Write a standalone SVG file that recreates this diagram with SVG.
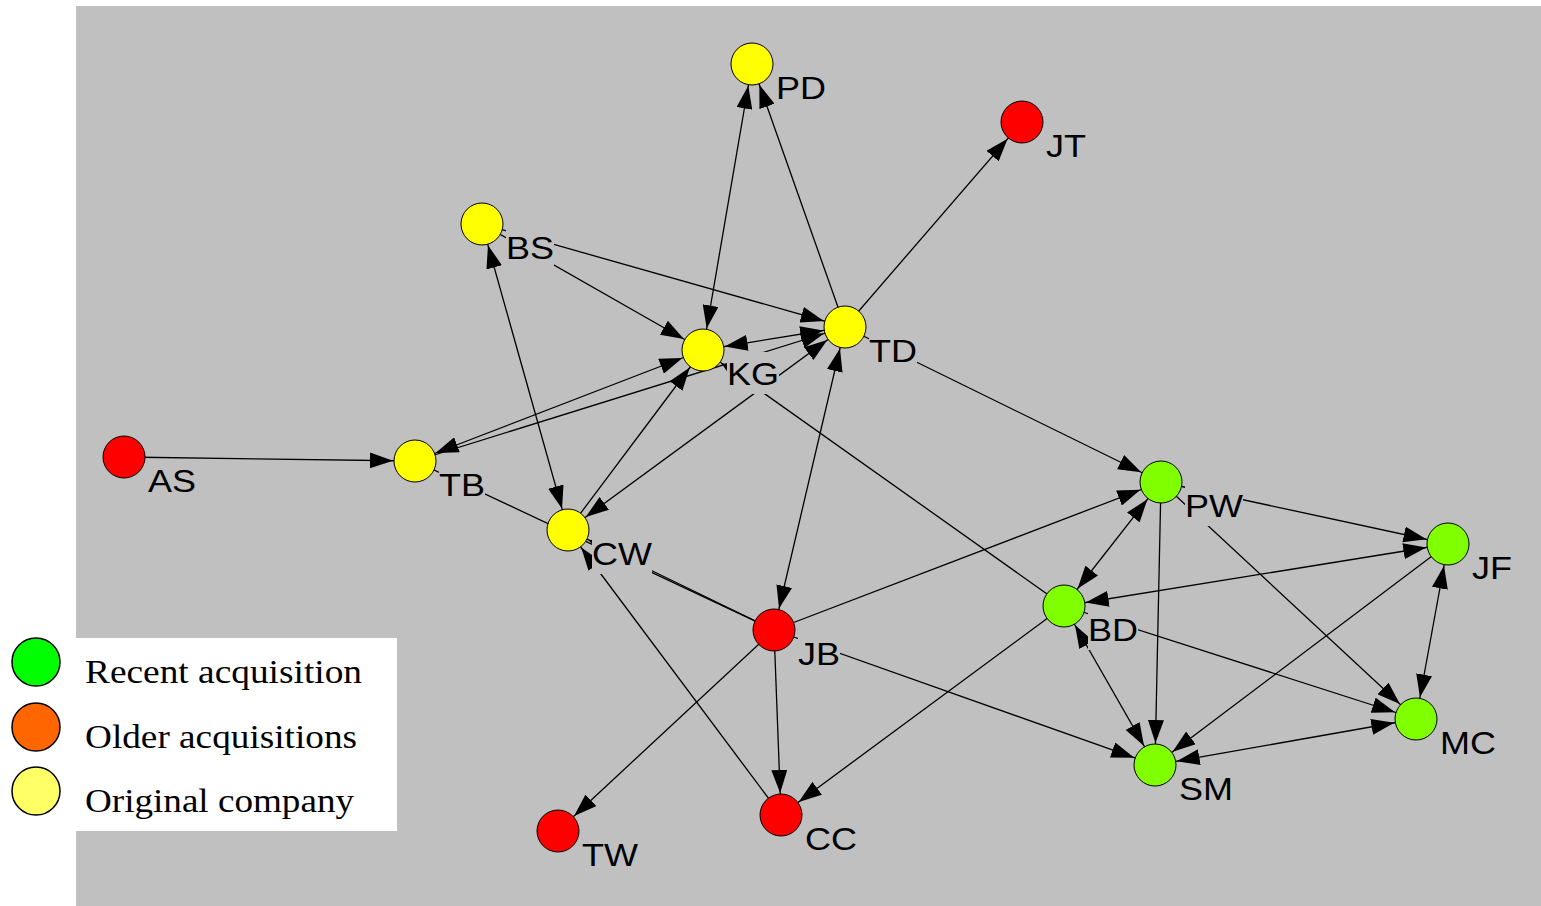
<svg xmlns="http://www.w3.org/2000/svg" width="1541" height="906" viewBox="0 0 1541 906">
  <style>
    .e { stroke: #000; stroke-width: 1.3; fill: none; }
    .a1 { marker-end: url(#ah); }
    .a2 { marker-start: url(#ah); marker-end: url(#ah); }
    .n { stroke: #000; stroke-width: 1; }
    .y { fill: #ffff00; }
    .r { fill: #ff0000; }
    .g { fill: #7fff00; }
    .lb { fill: #c0c0c0; }
    .lt { font-family: "Liberation Sans", Arial, sans-serif; font-size: 32px; fill: #000; }
    .leg { font-family: "Liberation Serif", "Times New Roman", serif; font-size: 33px; fill: #000; }
  </style>
  <defs>
    <!-- arrowhead whose tip sits 22px before the node centre the line ends at -->
    <marker id="ah" viewBox="0 0 45 16" refX="45" refY="8" markerWidth="45" markerHeight="16" markerUnits="userSpaceOnUse" orient="auto-start-reverse">
      <path d="M0,0 L23,8 L0,16 Z" fill="#000"/>
    </marker>
  </defs>

  <rect x="0" y="0" width="1541" height="906" fill="#ffffff"/>
  <rect x="76" y="6" width="1465" height="900" fill="#c0c0c0"/>

  <g id="edges">
    <line class="e a1" x1="124" y1="457" x2="415" y2="461"/>
    <line class="e a2" x1="415" y1="461" x2="703" y2="350"/>
    <line class="e a1" x1="415" y1="461" x2="845" y2="327"/>
    <line class="e" x1="415" y1="461" x2="774" y2="630"/>
    <line class="e a2" x1="482" y1="224" x2="568" y2="530"/>
    <line class="e a1" x1="482" y1="224" x2="703" y2="350"/>
    <line class="e a1" x1="482" y1="224" x2="845" y2="327"/>
    <line class="e a2" x1="752" y1="64" x2="703" y2="350"/>
    <line class="e a1" x1="845" y1="327" x2="752" y2="64"/>
    <line class="e a1" x1="845" y1="327" x2="1022" y2="122"/>
    <line class="e a2" x1="845" y1="327" x2="703" y2="350"/>
    <line class="e a1" x1="568" y1="530" x2="703" y2="350"/>
    <line class="e a2" x1="568" y1="530" x2="845" y2="327"/>
    <line class="e a2" x1="845" y1="327" x2="774" y2="630"/>
    <line class="e a1" x1="845" y1="327" x2="1161" y2="482"/>
    <line class="e a1" x1="1064" y1="606" x2="703" y2="350"/>
    <line class="e a1" x1="774" y1="630" x2="568" y2="530"/>
    <line class="e a1" x1="781" y1="815" x2="568" y2="530"/>
    <line class="e a1" x1="774" y1="630" x2="1161" y2="482"/>
    <line class="e a1" x1="774" y1="630" x2="1155" y2="765"/>
    <line class="e a1" x1="774" y1="630" x2="781" y2="815"/>
    <line class="e a1" x1="774" y1="630" x2="558" y2="831"/>
    <line class="e a1" x1="1064" y1="606" x2="781" y2="815"/>
    <line class="e a2" x1="1161" y1="482" x2="1064" y2="606"/>
    <line class="e a1" x1="1161" y1="482" x2="1155" y2="765"/>
    <line class="e a1" x1="1161" y1="482" x2="1448" y2="544"/>
    <line class="e a1" x1="1161" y1="482" x2="1416" y2="719"/>
    <line class="e a2" x1="1064" y1="606" x2="1448" y2="544"/>
    <line class="e a1" x1="1448" y1="544" x2="1155" y2="765"/>
    <line class="e a2" x1="1448" y1="544" x2="1416" y2="719"/>
    <line class="e a1" x1="1064" y1="606" x2="1416" y2="719"/>
    <line class="e a2" x1="1064" y1="606" x2="1155" y2="765"/>
    <line class="e a2" x1="1155" y1="765" x2="1416" y2="719"/>
  </g>

  <!-- nodes: label box (canvas colour) + label + disc -->
  <g id="node-PD"><rect class="lb" x="776" y="66" width="50" height="42"/><text class="lt" x="776" y="99" textLength="50" lengthAdjust="spacingAndGlyphs">PD</text><circle class="n y" cx="752" cy="64" r="21"/></g>
  <g id="node-JT"><rect class="lb" x="1046" y="124" width="40" height="42"/><text class="lt" x="1046" y="157" textLength="40" lengthAdjust="spacingAndGlyphs">JT</text><circle class="n r" cx="1022" cy="122" r="21"/></g>
  <g id="node-BS"><rect class="lb" x="506" y="226" width="48" height="42"/><text class="lt" x="506" y="259" textLength="48" lengthAdjust="spacingAndGlyphs">BS</text><circle class="n y" cx="482" cy="224" r="21"/></g>
  <g id="node-TD"><rect class="lb" x="869" y="329" width="48" height="42"/><text class="lt" x="869" y="362" textLength="48" lengthAdjust="spacingAndGlyphs">TD</text><circle class="n y" cx="845" cy="327" r="21"/></g>
  <g id="node-KG"><rect class="lb" x="727" y="352" width="52" height="42"/><text class="lt" x="727" y="385" textLength="52" lengthAdjust="spacingAndGlyphs">KG</text><circle class="n y" cx="703" cy="350" r="21"/></g>
  <g id="node-AS"><rect class="lb" x="148" y="459" width="48" height="42"/><text class="lt" x="148" y="492" textLength="48" lengthAdjust="spacingAndGlyphs">AS</text><circle class="n r" cx="124" cy="457" r="21"/></g>
  <g id="node-TB"><rect class="lb" x="439" y="463" width="46" height="42"/><text class="lt" x="439" y="496" textLength="46" lengthAdjust="spacingAndGlyphs">TB</text><circle class="n y" cx="415" cy="461" r="21"/></g>
  <g id="node-CW"><rect class="lb" x="592" y="532" width="60" height="42"/><text class="lt" x="592" y="565" textLength="60" lengthAdjust="spacingAndGlyphs">CW</text><circle class="n y" cx="568" cy="530" r="21"/></g>
  <g id="node-PW"><rect class="lb" x="1185" y="484" width="58" height="42"/><text class="lt" x="1185" y="517" textLength="58" lengthAdjust="spacingAndGlyphs">PW</text><circle class="n g" cx="1161" cy="482" r="21"/></g>
  <g id="node-JF"><rect class="lb" x="1472" y="546" width="40" height="42"/><text class="lt" x="1472" y="579" textLength="40" lengthAdjust="spacingAndGlyphs">JF</text><circle class="n g" cx="1448" cy="544" r="21"/></g>
  <g id="node-BD"><rect class="lb" x="1088" y="608" width="50" height="42"/><text class="lt" x="1088" y="641" textLength="50" lengthAdjust="spacingAndGlyphs">BD</text><circle class="n g" cx="1064" cy="606" r="21"/></g>
  <g id="node-JB"><rect class="lb" x="798" y="632" width="42" height="42"/><text class="lt" x="798" y="665" textLength="42" lengthAdjust="spacingAndGlyphs">JB</text><circle class="n r" cx="774" cy="630" r="21"/></g>
  <g id="node-MC"><rect class="lb" x="1440" y="721" width="56" height="42"/><text class="lt" x="1440" y="754" textLength="56" lengthAdjust="spacingAndGlyphs">MC</text><circle class="n g" cx="1416" cy="719" r="21"/></g>
  <g id="node-SM"><rect class="lb" x="1179" y="767" width="54" height="42"/><text class="lt" x="1179" y="800" textLength="54" lengthAdjust="spacingAndGlyphs">SM</text><circle class="n g" cx="1155" cy="765" r="21"/></g>
  <g id="node-CC"><rect class="lb" x="805" y="817" width="52" height="42"/><text class="lt" x="805" y="850" textLength="52" lengthAdjust="spacingAndGlyphs">CC</text><circle class="n r" cx="781" cy="815" r="21"/></g>
  <g id="node-TW"><rect class="lb" x="582" y="833" width="56" height="42"/><text class="lt" x="582" y="866" textLength="56" lengthAdjust="spacingAndGlyphs">TW</text><circle class="n r" cx="558" cy="831" r="21"/></g>

  <g id="legend">
    <rect x="76" y="638" width="321" height="193" fill="#ffffff"/>
    <circle cx="36" cy="662" r="24" fill="#00ff00" stroke="#000" stroke-width="1.5"/>
    <circle cx="36" cy="727" r="24" fill="#ff6600" stroke="#000" stroke-width="1.5"/>
    <circle cx="36" cy="791" r="24" fill="#ffff66" stroke="#000" stroke-width="1.5"/>
    <text class="leg" x="85" y="683" textLength="277" lengthAdjust="spacingAndGlyphs">Recent acquisition</text>
    <text class="leg" x="85" y="748" textLength="272" lengthAdjust="spacingAndGlyphs">Older acquisitions</text>
    <text class="leg" x="85" y="812" textLength="269" lengthAdjust="spacingAndGlyphs">Original company</text>
  </g>
</svg>
